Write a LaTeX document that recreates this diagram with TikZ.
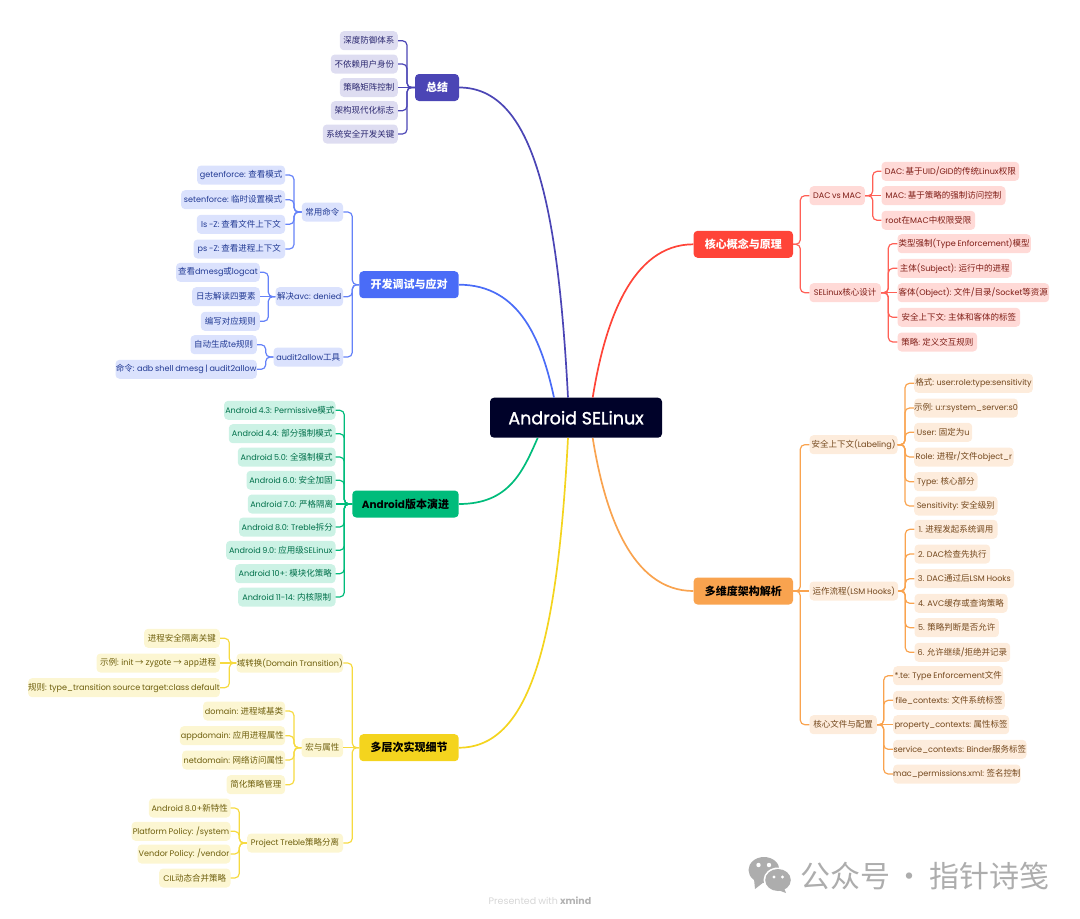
\documentclass[tikz,border=0pt]{standalone}
\usepackage{fontspec}
\setmainfont[Scale=0.95,WordSpace=0.8]{Poppins}
\newfontfamily\zhfont{Noto Sans CJK SC}
\newfontfamily\rootfont[FakeBold=1.5]{Poppins}
\usetikzlibrary{calc,positioning}

% han characters go to the CJK font, everything else stays in Poppins
\XeTeXinterchartokenstate=1
\newXeTeXintercharclass\zhclass
\newcount\zhchar
\zhchar="4E00
\loop
  \XeTeXcharclass\zhchar=\zhclass
  \advance\zhchar by 1
  \ifnum\zhchar<"A000 \repeat
\XeTeXcharclass"2192=\zhclass
\XeTeXinterchartoks 0 \zhclass={\zhfont}
\XeTeXinterchartoks 4095 \zhclass={\zhfont}
\XeTeXinterchartoks \zhclass 0={\rmfamily}

\definecolor{rootcol}{HTML}{000229}
\definecolor{sumcol}{HTML}{4B45B5}  \definecolor{sumfill}{HTML}{DEDDF1}  \definecolor{sumtext}{HTML}{2B2870}
\definecolor{devcol}{HTML}{4A6CF7}  \definecolor{devfill}{HTML}{DBE2FD}  \definecolor{devtext}{HTML}{223A94}
\definecolor{vercol}{HTML}{00BC7B}  \definecolor{verfill}{HTML}{CCF2E5}  \definecolor{vertext}{HTML}{00704A}
\definecolor{implcol}{HTML}{F4D41E} \definecolor{implfill}{HTML}{FCF6D2} \definecolor{impltext}{HTML}{6E5F0D}
\definecolor{corecol}{HTML}{FF4438} \definecolor{corefill}{HTML}{FFDAD7} \definecolor{coretext}{HTML}{7F1D16}
\definecolor{archcol}{HTML}{F9A34F} \definecolor{archfill}{HTML}{FDECDC} \definecolor{archtext}{HTML}{74481D}

\tikzset{
  box/.style={rounded corners=4pt,inner sep=0pt,minimum height=19pt,font=\fontsize{8.5}{10}\selectfont},
  topic/.style={rounded corners=4pt,inner sep=0pt,minimum height=27pt,font=\fontsize{11}{13}\selectfont\bfseries},
  sumbox/.style={box,fill=sumfill,text=sumtext},
  devbox/.style={box,fill=devfill,text=devtext},
  verbox/.style={box,fill=verfill,text=vertext},
  implbox/.style={box,fill=implfill,text=impltext},
  corebox/.style={box,fill=corefill,text=coretext},
  archbox/.style={box,fill=archfill,text=archtext},
  sumline/.style={draw=sumcol,line width=1.2pt,rounded corners=4.5pt},
  devline/.style={draw=devcol!85!white,line width=1.2pt,rounded corners=4.5pt},
  verline/.style={draw=vercol,line width=1.2pt,rounded corners=4.5pt},
  implline/.style={draw=implcol!85!white,line width=1.2pt,rounded corners=4.5pt},
  coreline/.style={draw=corecol!85!white,line width=1.2pt,rounded corners=4.5pt},
  archline/.style={draw=archcol,line width=1.2pt,rounded corners=4.5pt},
  branch/.style={line width=1.7pt}
}

\begin{document}
\begin{tikzpicture}[x=1pt,y=-1pt]
\useasboundingbox (0,0) rectangle (1080,919);

\node[fill=rootcol,text=white,rounded corners=4pt,minimum width=172pt,minimum height=40pt,inner sep=0pt,font=\fontsize{17.5}{20}\rootfont] (root) at (576,417.7) {Android SELinux};

\node[topic,fill=sumcol,text=white,minimum width=44pt] (sum) at (437,87.5) {总结};
\node[topic,fill=devcol,text=white,minimum width=99.4pt] (dev) at (409,284.7) {开发调试与应对};
\node[topic,fill=vercol,text=black,minimum width=106.4pt] (ver) at (405.5,504) {Android版本演进};
\node[topic,fill=implcol,text=black,minimum width=99.4pt] (impl) at (409,747.7) {多层次实现细节};
\node[topic,fill=corecol,text=white,minimum width=99.4pt] (core) at (743.3,244.3) {核心概念与原理};
\node[topic,fill=archcol,text=black,minimum width=99.4pt] (arch) at (743.3,591) {多维度架构解析};

\draw[sumcol,branch] (sum.east) .. controls +(75,0) and +(-10,-190) .. ([xshift=-8pt]root.north);
\draw[devcol,branch] (dev.east) .. controls +(62,0) and +(-12,-55) .. ([xshift=-22pt]root.north);
\draw[vercol,branch] (ver.east) .. controls +(50,0) and +(-15,34) .. ([xshift=-38.3pt]root.south);
\draw[implcol,branch] (impl.east) .. controls +(75,0) and +(-10,190) .. ([xshift=-8pt]root.south);
\draw[corecol,branch] (core.west) .. controls +(-62,0) and +(12,-75) .. ([xshift=16.7pt]root.north);
\draw[archcol,branch] (arch.west) .. controls +(-62,0) and +(12,75) .. ([xshift=16.7pt]root.south);

% summary
\node[sumbox,anchor=east,minimum width=58pt] (sum1) at (398,40.7) {深度防御体系};
\node[sumbox,anchor=east,minimum width=67pt] (sum2) at (398,64) {不依赖用户身份};
\node[sumbox,anchor=east,minimum width=58pt] (sum3) at (398,87.5) {策略矩阵控制};
\node[sumbox,anchor=east,minimum width=67pt] (sum4) at (398,110.7) {架构现代化标志};
\node[sumbox,anchor=east,minimum width=75pt] (sum5) at (398,134) {系统安全开发关键};
\coordinate (sumrail) at (407,87.5);
\draw[sumline] (sum.west) -- (sumrail) |- (sum1.east);
\draw[sumline] (sum.west) -- (sumrail) |- (sum2.east);
\draw[sumline] (sum.west) -- (sum3.east);
\draw[sumline] (sum.west) -- (sumrail) |- (sum4.east);
\draw[sumline] (sum.west) -- (sumrail) |- (sum5.east);

% debugging
\node[devbox,anchor=east,minimum width=41.3pt] (cmd) at (343.3,212) {常用命令};
\node[devbox,anchor=east,minimum width=67.6pt] (avc) at (343.3,296.7) {解决avc: denied};
\node[devbox,anchor=east,minimum width=69.6pt] (a2a) at (343.3,357) {audit2allow工具};
\coordinate (devrail) at (352.3,284.7);
\draw[devline] (dev.west) -- (devrail) |- (cmd.east);
\draw[devline] (dev.west) -- (devrail) |- (avc.east);
\draw[devline] (dev.west) -- (devrail) |- (a2a.east);

\node[devbox,anchor=east,minimum width=88pt] (cmd1) at (285.3,175) {getenforce: 查看模式};
\node[devbox,anchor=east,minimum width=104pt] (cmd2) at (285.3,199.7) {setenforce: 临时设置模式};
\node[devbox,anchor=east,minimum width=88.3pt] (cmd3) at (285.3,224.3) {ls -Z: 查看文件上下文};
\node[devbox,anchor=east,minimum width=91.6pt] (cmd4) at (285.3,249) {ps -Z: 查看进程上下文};
\coordinate (cmdrail) at (294,212);
\draw[devline] (cmd.west) -- (cmdrail) |- (cmd1.east);
\draw[devline] (cmd.west) -- (cmdrail) |- (cmd2.east);
\draw[devline] (cmd.west) -- (cmdrail) |- (cmd3.east);
\draw[devline] (cmd.west) -- (cmdrail) |- (cmd4.east);

\node[devbox,anchor=east,minimum width=83.7pt] (avc1) at (260,272.3) {查看dmesg或logcat};
\node[devbox,anchor=east,minimum width=67.7pt] (avc2) at (260,296.7) {日志解读四要素};
\node[devbox,anchor=east,minimum width=59pt] (avc3) at (260,321.3) {编写对应规则};
\coordinate (avcrail) at (268.3,296.7);
\draw[devline] (avc.west) -- (avcrail) |- (avc1.east);
\draw[devline] (avc.west) -- (avc2.east);
\draw[devline] (avc.west) -- (avcrail) |- (avc3.east);

\node[devbox,anchor=east,minimum width=66.3pt] (a2a1) at (257,344.7) {自动生成te规则};
\node[devbox,anchor=east,minimum width=141.3pt] (a2a2) at (257,369.3) {命令: adb shell dmesg | audit2allow};
\coordinate (a2arail) at (265.7,357);
\draw[devline] (a2a.west) -- (a2arail) |- (a2a1.east);
\draw[devline] (a2a.west) -- (a2arail) |- (a2a2.east);

% versions
\node[verbox,anchor=east,minimum width=111.4pt] (ver1) at (335.7,410.3) {Android 4.3: Permissive模式};
\node[verbox,anchor=east,minimum width=106.7pt] (ver2) at (335.7,433.7) {Android 4.4: 部分强制模式};
\node[verbox,anchor=east,minimum width=97.7pt] (ver3) at (335.7,457) {Android 5.0: 全强制模式};
\node[verbox,anchor=east,minimum width=89pt] (ver4) at (335.7,480.3) {Android 6.0: 安全加固};
\node[verbox,anchor=east,minimum width=87.7pt] (ver5) at (335.7,504) {Android 7.0: 严格隔离};
\node[verbox,anchor=east,minimum width=96.4pt] (ver6) at (335.7,527) {Android 8.0: Treble拆分};
\node[verbox,anchor=east,minimum width=109.4pt] (ver7) at (335.7,550.3) {Android 9.0: 应用级SELinux};
\node[verbox,anchor=east,minimum width=100.4pt] (ver8) at (335.7,573.7) {Android 10+: 模块化策略};
\node[verbox,anchor=east,minimum width=97.4pt] (ver9) at (335.7,597) {Android 11-14: 内核限制};
\coordinate (verrail) at (344.3,504);
\draw[verline] (ver.west) -- (verrail) |- (ver1.east);
\draw[verline] (ver.west) -- (verrail) |- (ver2.east);
\draw[verline] (ver.west) -- (verrail) |- (ver3.east);
\draw[verline] (ver.west) -- (verrail) |- (ver4.east);
\draw[verline] (ver.west) -- (ver5.east);
\draw[verline] (ver.west) -- (verrail) |- (ver6.east);
\draw[verline] (ver.west) -- (verrail) |- (ver7.east);
\draw[verline] (ver.west) -- (verrail) |- (ver8.east);
\draw[verline] (ver.west) -- (verrail) |- (ver9.east);

% implementation
\node[implbox,anchor=east,minimum width=106.6pt] (dom) at (343.3,663) {域转换(Domain Transition)};
\node[implbox,anchor=east,minimum width=41.6pt] (mac) at (343.3,747.7) {宏与属性};
\node[implbox,anchor=east,minimum width=96pt] (tre) at (343.3,843) {Project Treble策略分离};
\coordinate (implrail) at (352.3,747.7);
\draw[implline] (impl.west) -- (implrail) |- (dom.east);
\draw[implline] (impl.west) -- (mac.east);
\draw[implline] (impl.west) -- (implrail) |- (tre.east);

\node[implbox,anchor=east,minimum width=75.7pt] (dom1) at (220,638.3) {进程安全隔离关键};
\node[implbox,anchor=east,minimum width=123.3pt] (dom2) at (220,663) {示例: init → zygote → app进程};
\node[implbox,anchor=east,minimum width=189pt] (dom3) at (220,687.7) {规则: type\_transition source target:class default};
\coordinate (domrail) at (229.3,663);
\draw[implline] (dom.west) -- (domrail) |- (dom1.east);
\draw[implline] (dom.west) -- (dom2.east);
\draw[implline] (dom.west) -- (domrail) |- (dom3.east);

\node[implbox,anchor=east,minimum width=82pt] (mac1) at (285.3,711) {domain: 进程域基类};
\node[implbox,anchor=east,minimum width=105.3pt] (mac2) at (285.3,735.7) {appdomain: 应用进程属性};
\node[implbox,anchor=east,minimum width=103pt] (mac3) at (285.3,760) {netdomain: 网络访问属性};
\node[implbox,anchor=east,minimum width=58.6pt] (mac4) at (285.3,784.7) {简化策略管理};
\coordinate (macrail) at (294,747.7);
\draw[implline] (mac.west) -- (macrail) |- (mac1.east);
\draw[implline] (mac.west) -- (macrail) |- (mac2.east);
\draw[implline] (mac.west) -- (macrail) |- (mac3.east);
\draw[implline] (mac.west) -- (macrail) |- (mac4.east);

\node[implbox,anchor=east,minimum width=81.7pt] (tre1) at (230.7,808) {Android 8.0+新特性};
\node[implbox,anchor=east,minimum width=99pt] (tre2) at (230.7,831.3) {Platform Policy: /system};
\node[implbox,anchor=east,minimum width=93pt] (tre3) at (230.7,854) {Vendor Policy: /vendor};
\node[implbox,anchor=east,minimum width=71.4pt] (tre4) at (230.7,878) {CIL动态合并策略};
\coordinate (trerail) at (239.3,843);
\draw[implline] (tre.west) -- (trerail) |- (tre1.east);
\draw[implline] (tre.west) -- (trerail) |- (tre2.east);
\draw[implline] (tre.west) -- (trerail) |- (tre3.east);
\draw[implline] (tre.west) -- (trerail) |- (tre4.east);

% core concepts
\node[corebox,anchor=west,minimum width=55.4pt] (dac) at (809.3,195.7) {DAC vs MAC};
\node[corebox,anchor=west,minimum width=71.4pt] (sel) at (809.3,292.7) {SELinux核心设计};
\coordinate (corerail) at (800.3,244.3);
\draw[coreline] (core.east) -- (corerail) |- (dac.west);
\draw[coreline] (core.east) -- (corerail) |- (sel.west);

\node[corebox,anchor=west,minimum width=137.7pt] (dac1) at (881.3,171.3) {DAC: 基于UID/GID的传统Linux权限};
\node[corebox,anchor=west,minimum width=124pt] (dac2) at (881.3,195.7) {MAC: 基于策略的强制访问控制};
\node[corebox,anchor=west,minimum width=93.7pt] (dac3) at (881.3,220.3) {root在MAC中权限受限};
\coordinate (dacrail) at (872.7,195.7);
\draw[coreline] (dac.east) -- (dacrail) |- (dac1.west);
\draw[coreline] (dac.east) -- (dac2.west);
\draw[coreline] (dac.east) -- (dacrail) |- (dac3.west);

\node[corebox,anchor=west,minimum width=133.4pt] (sel1) at (897.3,243.7) {类型强制(Type Enforcement)模型};
\node[corebox,anchor=west,minimum width=114.4pt] (sel2) at (897.3,268.3) {主体(Subject): 运行中的进程};
\node[corebox,anchor=west,minimum width=151.7pt] (sel3) at (897.3,292.7) {客体(Object): 文件/目录/Socket等资源};
\node[corebox,anchor=west,minimum width=122.7pt] (sel4) at (897.3,317.3) {安全上下文: 主体和客体的标签};
\node[corebox,anchor=west,minimum width=79.7pt] (sel5) at (897.3,342) {策略: 定义交互规则};
\coordinate (selrail) at (888.3,292.7);
\draw[coreline] (sel.east) -- (selrail) |- (sel1.west);
\draw[coreline] (sel.east) -- (selrail) |- (sel2.west);
\draw[coreline] (sel.east) -- (sel3.west);
\draw[coreline] (sel.east) -- (selrail) |- (sel4.west);
\draw[coreline] (sel.east) -- (selrail) |- (sel5.west);

% architecture
\node[archbox,anchor=west,minimum width=88pt] (lab) at (809.3,444.7) {安全上下文(Labeling)};
\node[archbox,anchor=west,minimum width=88.7pt] (lsm) at (809.3,591) {运作流程(LSM Hooks)};
\node[archbox,anchor=west,minimum width=67.4pt] (fil) at (809.3,724.7) {核心文件与配置};
\coordinate (archrail) at (800.3,591);
\draw[archline] (arch.east) -- (archrail) |- (lab.west);
\draw[archline] (arch.east) -- (lsm.west);
\draw[archline] (arch.east) -- (archrail) |- (fil.west);

\node[archbox,anchor=west,minimum width=118.7pt] (lab1) at (914,383.3) {格式: user:role:type:sensitivity};
\node[archbox,anchor=west,minimum width=103pt] (lab2) at (914,408) {示例: u:r:system\_server:s0};
\node[archbox,anchor=west,minimum width=58pt] (lab3) at (914,432.3) {User: 固定为u};
\node[archbox,anchor=west,minimum width=99.3pt] (lab4) at (914,457) {Role: 进程r/文件object\_r};
\node[archbox,anchor=west,minimum width=63.3pt] (lab5) at (914,481.7) {Type: 核心部分};
\node[archbox,anchor=west,minimum width=83.3pt] (lab6) at (914,506) {Sensitivity: 安全级别};
\coordinate (labrail) at (905,444.7);
\draw[archline] (lab.east) -- (labrail) |- (lab1.west);
\draw[archline] (lab.east) -- (labrail) |- (lab2.west);
\draw[archline] (lab.east) -- (labrail) |- (lab3.west);
\draw[archline] (lab.east) -- (labrail) |- (lab4.west);
\draw[archline] (lab.east) -- (labrail) |- (lab5.west);
\draw[archline] (lab.east) -- (labrail) |- (lab6.west);

\node[archbox,anchor=west,minimum width=83pt] (lsm1) at (914.3,529.3) {1. 进程发起系统调用};
\node[archbox,anchor=west,minimum width=75.7pt] (lsm2) at (914.3,554) {2. DAC检查先执行};
\node[archbox,anchor=west,minimum width=99.7pt] (lsm3) at (914.3,578.7) {3. DAC通过后LSM Hooks};
\node[archbox,anchor=west,minimum width=93pt] (lsm4) at (914.3,603.3) {4. AVC缓存或查询策略};
\node[archbox,anchor=west,minimum width=84.4pt] (lsm5) at (914.3,627.7) {5. 策略判断是否允许};
\node[archbox,anchor=west,minimum width=95.7pt] (lsm6) at (914.3,652.3) {6. 允许继续/拒绝并记录};
\coordinate (lsmrail) at (905.3,591);
\draw[archline] (lsm.east) -- (lsmrail) |- (lsm1.west);
\draw[archline] (lsm.east) -- (lsmrail) |- (lsm2.west);
\draw[archline] (lsm.east) -- (lsmrail) |- (lsm3.west);
\draw[archline] (lsm.east) -- (lsmrail) |- (lsm4.west);
\draw[archline] (lsm.east) -- (lsmrail) |- (lsm5.west);
\draw[archline] (lsm.east) -- (lsmrail) |- (lsm6.west);

\node[archbox,anchor=west,minimum width=110pt] (fil1) at (893,675.7) {*.te: Type Enforcement文件};
\node[archbox,anchor=west,minimum width=111.7pt] (fil2) at (893,700.3) {file\_contexts: 文件系统标签};
\node[archbox,anchor=west,minimum width=116pt] (fil3) at (893,724.7) {property\_contexts: 属性标签};
\node[archbox,anchor=west,minimum width=133.3pt] (fil4) at (893,749.3) {service\_contexts: Binder服务标签};
\node[archbox,anchor=west,minimum width=124.7pt] (fil5) at (893,774) {mac\_permissions.xml: 签名控制};
\coordinate (filrail) at (883.7,724.7);
\draw[archline] (fil.east) -- (filrail) |- (fil1.west);
\draw[archline] (fil.east) -- (filrail) |- (fil2.west);
\draw[archline] (fil.east) -- (fil3.west);
\draw[archline] (fil.east) -- (filrail) |- (fil4.west);
\draw[archline] (fil.east) -- (filrail) |- (fil5.west);

% footer and watermark
\node[text=black!16,font=\fontsize{10}{12}\selectfont,inner sep=0pt] (foot) at (540,900.5) {Presented with \textcolor{black!30}{\bfseries xmind}};
\fill[black!32] (764,870) ellipse (15.5 and 13);
\fill[black!32] (754,879) -- (755,889) -- (764,882) -- cycle;
\fill[white] (778,880) ellipse (14.5 and 12.5);
\fill[black!32] (778,880) ellipse (12.8 and 11);
\fill[black!32] (784,888) -- (786,893) -- (778,890) -- cycle;
\fill[white] (758.5,865) circle (2.2) (769,865) circle (2.2);
\fill[white] (774,877) circle (1.7) (782.5,877) circle (1.7);
\node[text=black!32,font=\fontsize{30}{32}\selectfont,inner sep=0pt,anchor=west] (mark) at (800,875.5) {公众号\hspace{-2pt} · \hspace{-2pt}指针诗笺};
\end{tikzpicture}
\end{document}
